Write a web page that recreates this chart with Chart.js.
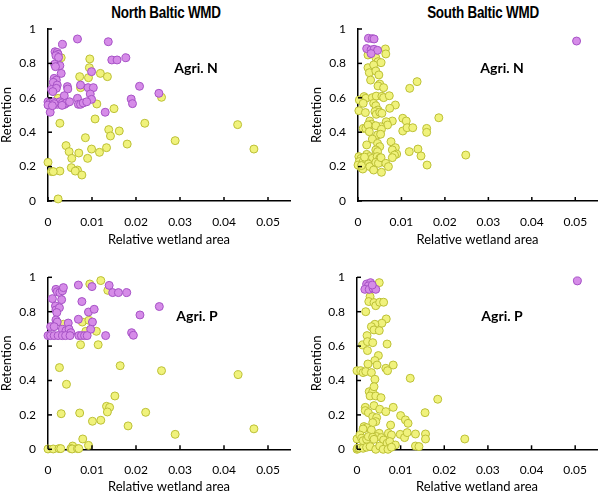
<!DOCTYPE html>
<html><head><meta charset="utf-8">
<script src="https://cdn.jsdelivr.net/npm/chart.js@4/dist/chart.umd.min.js"></script>
<style>
body{margin:0;background:#fff;width:602px;height:493px;position:relative;overflow:hidden;}
canvas{position:absolute;}
.title{position:absolute;top:4px;font-family:"Liberation Sans","Arial",sans-serif;font-weight:bold;font-size:16px;transform:translateX(-50%) scaleX(0.84);letter-spacing:-0.3px;white-space:nowrap;color:#000;}
.lab{position:absolute;font-family:Lato,sans-serif;font-weight:bold;font-size:14px;transform:translate(-50%,-50%);white-space:nowrap;color:#000;}
</style></head>
<body>
<div class="title" style="left:166px">North Baltic WMD</div>
<div class="title" style="left:483px">South Baltic WMD</div>
<canvas id="c1" width="300" height="250" style="left:0;top:0"></canvas>
<canvas id="c2" width="302" height="250" style="left:300px;top:0"></canvas>
<canvas id="c3" width="300" height="243" style="left:0;top:250px"></canvas>
<canvas id="c4" width="302" height="243" style="left:300px;top:250px"></canvas>
<div class="lab" style="left:196px;top:67px">Agri. N</div>
<div class="lab" style="left:502px;top:67px">Agri. N</div>
<div class="lab" style="left:197px;top:315px">Agri. P</div>
<div class="lab" style="left:502px;top:315px">Agri. P</div>
<script>
// ---- Data (x = relative wetland area, y = retention) ----
const xTickValues = [0, 0.01, 0.02, 0.03, 0.04, 0.05];
const yTickStep = 0.2;

// North Baltic, Agri. N
const northN_purpleX = [0.0067,0.0137,0.0033,0.0016,0.0021,0.0023,0.0018,0.0024,0.0015,0.0027,0.0017,0.0030,0.0099,0.0014,0.0019,0.0012,0.0021,0.0008,0.0019,0.0011,0.0044,0.0045,0.0074,0.0091,0.0103,0.0096,0.0037,0.0067,0.0099,0.0000,0.0004,0.0012,0.0021,0.0027,0.0033,0.0038,0.0042,0.0049,0.0000,0.0014,0.0069,0.0074,0.0080,0.0088,0.0005,0.0130,0.0189,0.0192,0.0145,0.0157,0.0177,0.0208,0.0252,0.0032,0.0010];
const northN_purpleY = [0.942,0.926,0.911,0.868,0.864,0.853,0.845,0.835,0.795,0.787,0.781,0.742,0.752,0.713,0.703,0.690,0.674,0.649,0.655,0.636,0.665,0.651,0.674,0.659,0.659,0.622,0.612,0.597,0.591,0.577,0.570,0.577,0.562,0.577,0.570,0.562,0.570,0.577,0.558,0.566,0.562,0.562,0.570,0.577,0.516,0.516,0.593,0.566,0.820,0.820,0.833,0.667,0.626,0.556,0.554];
const northN_yellowX = [0.0030,0.0095,0.0094,0.0072,0.0092,0.0119,0.0135,0.0074,0.0023,0.0258,0.0111,0.0150,0.0107,0.0027,0.0220,0.0431,0.0138,0.0162,0.0142,0.0085,0.0289,0.0180,0.0041,0.0048,0.0133,0.0099,0.0117,0.0070,0.0468,0.0054,0.0090,0.0000,0.0053,0.0067,0.0062,0.0027,0.0008,0.0012,0.0077,0.0023];
const northN_yellowY = [0.833,0.826,0.775,0.723,0.717,0.742,0.723,0.659,0.597,0.603,0.564,0.537,0.477,0.452,0.452,0.444,0.415,0.407,0.378,0.368,0.351,0.331,0.322,0.287,0.310,0.302,0.283,0.279,0.302,0.248,0.248,0.225,0.194,0.180,0.174,0.174,0.171,0.171,0.151,0.012];

// South Baltic, Agri. N
const southN_purpleX = [0.0024,0.0033,0.0037,0.0020,0.0030,0.0037,0.0045,0.0030,0.0503];
const southN_purpleY = [0.946,0.944,0.942,0.886,0.878,0.882,0.876,0.857,0.930];
const southN_yellowX = [0.0063,0.0064,0.0023,0.0041,0.0046,0.0053,0.0023,0.0036,0.0026,0.0041,0.0048,0.0029,0.0050,0.0046,0.0059,0.0119,0.0136,0.0014,0.0018,0.0033,0.0042,0.0055,0.0059,0.0072,0.0003,0.0012,0.0036,0.0041,0.0046,0.0086,0.0073,0.0002,0.0017,0.0039,0.0042,0.0050,0.0055,0.0186,0.0103,0.0111,0.0079,0.0027,0.0031,0.0065,0.0068,0.0052,0.0041,0.0012,0.0018,0.0023,0.0026,0.0054,0.0103,0.0113,0.0126,0.0158,0.0158,0.0045,0.0052,0.0033,0.0076,0.0020,0.0045,0.0050,0.0041,0.0045,0.0086,0.0079,0.0089,0.0084,0.0118,0.0138,0.0145,0.0248,0.0159,0.0002,0.0007,0.0003,0.0012,0.0005,0.0011,0.0020,0.0027,0.0033,0.0020,0.0024,0.0029,0.0035,0.0027,0.0044,0.0050,0.0041,0.0047,0.0053,0.0036,0.0054,0.0064,0.0070,0.0079,0.0000,0.0008,0.0015];
const southN_yellowY = [0.884,0.855,0.849,0.833,0.810,0.804,0.775,0.791,0.746,0.756,0.733,0.703,0.680,0.669,0.659,0.655,0.694,0.607,0.597,0.601,0.610,0.609,0.601,0.612,0.587,0.568,0.568,0.554,0.529,0.558,0.539,0.525,0.514,0.520,0.504,0.516,0.510,0.484,0.481,0.465,0.465,0.465,0.446,0.461,0.442,0.432,0.438,0.422,0.422,0.442,0.403,0.417,0.407,0.426,0.426,0.422,0.399,0.384,0.388,0.360,0.345,0.326,0.335,0.316,0.297,0.287,0.310,0.297,0.273,0.267,0.287,0.302,0.262,0.267,0.209,0.258,0.248,0.229,0.229,0.200,0.186,0.271,0.258,0.248,0.225,0.215,0.202,0.186,0.200,0.258,0.248,0.225,0.219,0.252,0.180,0.167,0.219,0.200,0.252,0.209,0.206,0.255];

// North Baltic, Agri. P
const northP_purpleX = [0.0018,0.0021,0.0027,0.0033,0.0035,0.0069,0.0100,0.0139,0.0147,0.0160,0.0179,0.0010,0.0031,0.0017,0.0018,0.0026,0.0020,0.0077,0.0253,0.0209,0.0092,0.0105,0.0069,0.0018,0.0021,0.0046,0.0101,0.0006,0.0014,0.0033,0.0041,0.0048,0.0052,0.0097,0.0190,0.0194,0.0000,0.0006,0.0014,0.0023,0.0033,0.0040,0.0050,0.0070,0.0076,0.0083,0.0089,0.0131];
const northP_purpleY = [0.930,0.916,0.911,0.922,0.940,0.955,0.946,0.953,0.911,0.911,0.911,0.876,0.870,0.833,0.810,0.823,0.795,0.859,0.830,0.781,0.798,0.814,0.756,0.752,0.740,0.734,0.740,0.713,0.713,0.698,0.690,0.698,0.678,0.698,0.678,0.663,0.661,0.661,0.661,0.661,0.661,0.661,0.661,0.661,0.661,0.661,0.661,0.661];
const northP_yellowX = [0.0120,0.0095,0.0136,0.0035,0.0078,0.0093,0.0086,0.0110,0.0074,0.0114,0.0026,0.0164,0.0258,0.0432,0.0042,0.0152,0.0133,0.0140,0.0135,0.0030,0.0072,0.0222,0.0101,0.0120,0.0182,0.0289,0.0468,0.0079,0.0092,0.0056,0.0000,0.0012,0.0025,0.0029,0.0052,0.0055,0.0067,0.0070];
const northP_yellowY = [0.981,0.961,0.924,0.727,0.740,0.750,0.686,0.686,0.608,0.608,0.475,0.486,0.457,0.434,0.378,0.310,0.250,0.244,0.217,0.207,0.211,0.215,0.163,0.169,0.136,0.087,0.119,0.060,0.023,0.019,0.002,0.002,0.004,0.004,0.004,0.002,0.004,0.004];

// South Baltic, Agri. P
const southP_purpleX = [0.0022,0.0031,0.0026,0.0018,0.0028,0.0037,0.0043,0.0035,0.0505];
const southP_purpleY = [0.961,0.969,0.950,0.930,0.930,0.936,0.930,0.955,0.979];
const southP_yellowX = [0.0051,0.0030,0.0027,0.0039,0.0043,0.0052,0.0061,0.0020,0.0067,0.0057,0.0041,0.0033,0.0039,0.0051,0.0023,0.0013,0.0024,0.0036,0.0069,0.0024,0.0049,0.0041,0.0046,0.0025,0.0083,0.0066,0.0070,0.0000,0.0009,0.0014,0.0020,0.0033,0.0041,0.0122,0.0028,0.0036,0.0039,0.0030,0.0043,0.0055,0.0185,0.0019,0.0039,0.0083,0.0019,0.0026,0.0052,0.0066,0.0156,0.0100,0.0036,0.0045,0.0043,0.0036,0.0111,0.0117,0.0077,0.0016,0.0022,0.0014,0.0033,0.0072,0.0079,0.0051,0.0045,0.0099,0.0109,0.0115,0.0134,0.0157,0.0157,0.0247,0.0000,0.0007,0.0011,0.0014,0.0022,0.0026,0.0036,0.0039,0.0056,0.0061,0.0069,0.0075,0.0088,0.0134,0.0142,0.0000,0.0001,0.0005,0.0014,0.0022,0.0030,0.0043,0.0052,0.0060,0.0071,0.0079];
const southP_yellowY = [0.969,0.888,0.859,0.853,0.835,0.855,0.855,0.800,0.758,0.733,0.727,0.713,0.694,0.690,0.661,0.607,0.626,0.620,0.612,0.574,0.545,0.516,0.490,0.496,0.490,0.471,0.457,0.457,0.457,0.446,0.452,0.446,0.407,0.413,0.335,0.335,0.364,0.310,0.310,0.300,0.291,0.244,0.254,0.244,0.225,0.213,0.233,0.219,0.213,0.196,0.190,0.184,0.161,0.155,0.171,0.151,0.141,0.132,0.126,0.118,0.112,0.093,0.083,0.093,0.074,0.087,0.068,0.097,0.089,0.089,0.060,0.060,0.060,0.083,0.064,0.050,0.058,0.074,0.070,0.058,0.068,0.054,0.035,0.045,0.025,0.019,0.016,0.000,0.006,0.006,0.006,0.012,0.016,0.000,0.019,0.000,0.000,0.012];

// ---- Styling ----
const PURPLE_FILL = '#d68ce8', PURPLE_LINE = '#a652c6';
const YELLOW_FILL = '#f0f27c', YELLOW_LINE = '#bcc036';
const FONT = 'Lato, "Open Sans", sans-serif';

function pts(xs, ys){ return xs.map((x,i)=>({x:x, y:ys[i]})); }

const innerTicks = {
  id:'innerTicks',
  afterDatasetsDraw(chart){
    const ctx = chart.ctx, a = chart.chartArea, xs = chart.scales.x, ys = chart.scales.y;
    ctx.save(); ctx.strokeStyle = '#000'; ctx.lineWidth = 1.5;
    ys.ticks.forEach(t=>{ const p = ys.getPixelForValue(t.value); ctx.beginPath(); ctx.moveTo(a.left, p); ctx.lineTo(a.left+4, p); ctx.stroke(); });
    xs.ticks.forEach(t=>{ const p = xs.getPixelForValue(t.value); ctx.beginPath(); ctx.moveTo(p, a.bottom); ctx.lineTo(p, a.bottom-4); ctx.stroke(); });
    ctx.restore();
  }
};

function makeChart(id, pX, pY, yX, yY, g){
  new Chart(document.getElementById(id), {
    type:'scatter',
    data:{ datasets:[
      {data:pts(pX,pY), backgroundColor:PURPLE_FILL, borderColor:PURPLE_LINE, borderWidth:1, pointRadius:4, pointHoverRadius:4, clip:false, order:0},
      {data:pts(yX,yY), backgroundColor:YELLOW_FILL, borderColor:YELLOW_LINE, borderWidth:1, pointRadius:4, pointHoverRadius:4, clip:false, order:1}
    ]},
    options:{
      responsive:false, animation:false, devicePixelRatio:1,
      layout:{padding:{top:g.top, right:g.right, left:0, bottom:0}},
      plugins:{legend:{display:false}, tooltip:{enabled:false}},
      scales:{
        x:{type:'linear', min:0, max:0.055,
          afterBuildTicks:s=>{ s.ticks = xTickValues.map(v=>({value:v})); },
          afterFit:s=>{ s.height = g.xH; },
          grid:{display:false, drawTicks:false},
          border:{display:true, color:'#000', width:1.5},
          ticks:{padding:g.xPad, color:'#000', font:{family:FONT, size:12}, maxRotation:0,
                 callback:v=> v===0 ? '0' : v.toFixed(2)},
          title:{display:true, text:'Relative wetland area', color:'#000', font:{family:FONT, size:13, lineHeight:1}, padding:{top:0,bottom:g.tPad}}
        },
        y:{min:0, max:1,
          afterFit:s=>{ s.width = g.yW; },
          grid:{display:false, drawTicks:false},
          border:{display:true, color:'#000', width:1.5},
          ticks:{stepSize:yTickStep, padding:12, color:'#000', font:{family:FONT, size:12},
                 callback:v=> String(+v.toFixed(1))},
          title:{display:true, text:'Retention', color:'#000', font:{family:FONT, size:13, lineHeight:1}, padding:{top:g.yTPad, bottom:0}}
        }
      }
    },
    plugins:[innerTicks]
  });
}

makeChart('c1', northN_purpleX, northN_purpleY, northN_yellowX, northN_yellowY, {top:29, right:10, xH:49, yW:48, xPad:14, tPad:3.5, yTPad:0});
makeChart('c2', southN_purpleX, southN_purpleY, southN_yellowX, southN_yellowY, {top:29, right:2, xH:49, yW:58, xPad:14, tPad:3.5, yTPad:10.5});
makeChart('c3', northP_purpleX, northP_purpleY, northP_yellowX, northP_yellowY, {top:27.3, right:10, xH:43.7, yW:48, xPad:13.5, tPad:0, yTPad:0});
makeChart('c4', southP_purpleX, southP_purpleY, southP_yellowX, southP_yellowY, {top:27.3, right:3, xH:43.7, yW:57, xPad:13.5, tPad:0, yTPad:10.5});
</script>
</body></html>
